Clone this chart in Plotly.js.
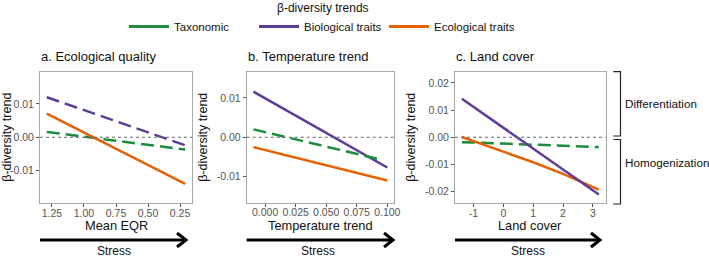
<!DOCTYPE html>
<html>
<head>
<meta charset="utf-8">
<script src="https://cdn.plot.ly/plotly-3.0.1.min.js"></script>
<style>html,body{margin:0;padding:0;background:#fff;}#chart{width:709px;height:257px;}</style>
</head>
<body>
<div id="chart"></div>
<script>
// ---------------- data ----------------
const seriesNames = ["Taxonomic", "Biological traits", "Ecological traits"];
const seriesColors = ["#1e8c3f", "#5e3c99", "#e66101"];
const legendTitle = "β-diversity trends";

// a. Ecological quality (x = Mean EQR, reversed)
const eqrX = [1.29, 0.21];
const eqrTaxa = [0.0016, -0.0037];
const eqrBio = [0.0120, -0.0024];
const eqrEco = [0.0071, -0.0140];

// b. Temperature trend
const tempX = [-0.0096, 0.100];
const tempTaxaX = [-0.0096, 0.095];
const tempTaxa = [0.0020, -0.0057];
const tempBio = [0.0116, -0.0077];
const tempEco = [-0.0025, -0.0110];

// c. Land cover
const landX = [-1.39, 3.2];
const landTaxa = [-0.0018, -0.0036];
const landBio = [0.0142, -0.0211];
const landEcoX = [-1.39, 0, 1, 2, 3.2];
const landEco = [0.0001, -0.0052, -0.0092, -0.0135, -0.0193];

// tick labels
const eqrTicks = [1.25, 1.00, 0.75, 0.50, 0.25];
const eqrTickText = ["1.25", "1.00", "0.75", "0.50", "0.25"];
const tempTicks = [0, 0.025, 0.05, 0.075, 0.1];
const tempTickText = ["0.000", "0.025", "0.050", "0.075", "0.100"];
const landTicks = [-1, 0, 1, 2, 3];
const landTickText = ["-1", "0", "1", "2", "3"];
const yTicksAB = [-0.01, 0, 0.01];
const yTickTextAB = ["-0.01", "0.00", "0.01"];
const yTicksC = [-0.02, -0.01, 0, 0.01, 0.02];
const yTickTextC = ["-0.02", "-0.01", "0.00", "0.01", "0.02"];

const panelTitles = ["a. Ecological quality", "b. Temperature trend", "c. Land cover"];
const xTitles = ["Mean EQR", "Temperature trend", "Land cover"];

// ---------------- layout helpers ----------------
const W = 709, H = 257;
const px = x => x / W;
const py = y => 1 - y / H;
const FONT = "Liberation Sans, Arial, Helvetica, sans-serif";
const DASH = "13px,6px";
const LW = 2.5;

function line(x, y, xa, ya, color, dash) {
  return {x: x, y: y, xaxis: xa, yaxis: ya, type: "scatter", mode: "lines",
    line: {color: color, width: LW, dash: dash || "solid"}, showlegend: false, hoverinfo: "skip"};
}

const traces = [
  line(eqrX, eqrBio, "x", "y", seriesColors[1], DASH),
  line(eqrX, eqrTaxa, "x", "y", seriesColors[0], DASH),
  line(eqrX, eqrEco, "x", "y", seriesColors[2]),
  line(tempX, tempBio, "x2", "y2", seriesColors[1]),
  line(tempTaxaX, tempTaxa, "x2", "y2", seriesColors[0], DASH),
  line(tempX, tempEco, "x2", "y2", seriesColors[2]),
  line(landX, landTaxa, "x3", "y3", seriesColors[0], DASH),
  line(landEcoX, landEco, "x3", "y3", seriesColors[2]),
  line(landX, landBio, "x3", "y3", seriesColors[1]),
];
// legend entries (solid keys)
seriesNames.forEach((n, i) => {
  traces.push({x: [null], y: [null], type: "scatter", mode: "lines", name: n,
    line: {color: seriesColors[i], width: 3}, xaxis: "x", yaxis: "y", showlegend: true});
});

// panel boxes in pixels
const boxes = [
  {l: 40, r: 192, t: 71.5, b: 203},
  {l: 246.7, r: 394, t: 72, b: 202.5},
  {l: 455, r: 605.7, t: 71.5, b: 203},
];

function xa(i, range, tickvals, ticktext) {
  const b = boxes[i];
  return {
    domain: [px(b.l), px(b.r)], range: range, anchor: i === 0 ? "y" : "y" + (i + 1),
    tickvals: tickvals, ticktext: ticktext, ticks: "outside", ticklen: 3, tickwidth: 1,
    tickcolor: "#555", tickfont: {family: FONT, size: 10.5, color: "#555"}, ticklabelstandoff: -3,
    showline: true, linecolor: "#aaa", linewidth: 1, mirror: true, showgrid: false, zeroline: false,
    fixedrange: true
  };
}
function ya(i, range, tickvals, ticktext) {
  const b = boxes[i];
  return {
    domain: [py(b.b), py(b.t)], range: range, anchor: i === 0 ? "x" : "x" + (i + 1),
    tickvals: tickvals, ticktext: ticktext, ticks: "outside", ticklen: 3, tickwidth: 1,
    tickcolor: "#555", tickfont: {family: FONT, size: 10.5, color: "#555"},
    showline: true, linecolor: "#aaa", linewidth: 1, mirror: true, showgrid: false, zeroline: false,
    title: {text: "β-diversity trend", font: {family: FONT, size: 12.5, color: "#111"}, standoff: 6},
    fixedrange: true
  };
}

const shapes = [];
// zero reference lines
["y", "y2", "y3"].forEach((yr, i) => {
  shapes.push({type: "line", xref: (i === 0 ? "x" : "x" + (i + 1)) + " domain", yref: yr,
    x0: 0, x1: 1, y0: 0, y1: 0, line: {color: "#666", width: 1, dash: "3px,3px"}});
});
// stress arrows
const arrows = [[40, 186], [246.7, 393], [455, 600]];
const arrowY = 240;
arrows.forEach(a => {
  shapes.push({type: "line", xref: "paper", yref: "paper", x0: px(a[0]), x1: px(a[1] - 1), y0: py(arrowY), y1: py(arrowY),
    line: {color: "#000", width: 3}});
  shapes.push({type: "path", xref: "paper", yref: "paper",
    path: `M ${px(a[1] - 9)},${py(arrowY - 7)} L ${px(a[1])},${py(arrowY)} L ${px(a[1] - 9)},${py(arrowY + 7)}`,
    line: {color: "#000", width: 3}});
});
// brackets
function bracket(t, b) {
  return {type: "path", xref: "paper", yref: "paper",
    path: `M ${px(613.3)},${py(t)} L ${px(620.5)},${py(t)} L ${px(620.5)},${py(b)} L ${px(613.3)},${py(b)}`,
    line: {color: "#222", width: 1.2}};
}
shapes.push(bracket(71.7, 136));
shapes.push(bracket(139.5, 204));

const annotations = [];
annotations.push({text: legendTitle, xref: "paper", yref: "paper", x: px(323), y: py(7.5),
  xanchor: "center", yanchor: "middle", showarrow: false, font: {family: FONT, size: 12, color: "#111"}});
panelTitles.forEach((t, i) => {
  const cx = (boxes[i].l + boxes[i].r) / 2;
  annotations.push({text: t, xref: "paper", yref: "paper", x: px(boxes[i].l - 1), y: py(56),
    xanchor: "left", yanchor: "middle", showarrow: false, font: {family: FONT, size: 13, color: "#111"}});
  annotations.push({text: xTitles[i], xref: "paper", yref: "paper", x: px(cx), y: py(225),
    xanchor: "center", yanchor: "middle", showarrow: false, font: {family: FONT, size: 12.8, color: "#111"}});
  annotations.push({text: "Stress", xref: "paper", yref: "paper", x: px(cx - 2), y: py(250.5),
    xanchor: "center", yanchor: "middle", showarrow: false, font: {family: FONT, size: 12, color: "#111"}});
});
annotations.push({text: "Differentiation", xref: "paper", yref: "paper", x: px(623), y: py(103.5),
  xanchor: "left", yanchor: "middle", showarrow: false, font: {family: FONT, size: 11.7, color: "#111"}});
annotations.push({text: "Homogenization", xref: "paper", yref: "paper", x: px(623), y: py(162),
  xanchor: "left", yanchor: "middle", showarrow: false, font: {family: FONT, size: 11.7, color: "#111"}});

const layout = {
  width: W, height: H, margin: {l: 0, r: 0, t: 0, b: 0},
  paper_bgcolor: "#fff", plot_bgcolor: "#fff",
  font: {family: FONT, color: "#111"},
  showlegend: true,
  legend: {orientation: "h", x: px(319), xanchor: "center", y: py(12), yanchor: "top",
    font: {family: FONT, size: 11.5, color: "#111"}, itemwidth: 40, entrywidth: 75, entrywidthmode: "pixels",
    bgcolor: "rgba(0,0,0,0)", itemclick: false, itemdoubleclick: false},
  xaxis: xa(0, [1.343, 0.157], eqrTicks, eqrTickText),
  yaxis: ya(0, [-0.0197, 0.0197], yTicksAB, yTickTextAB),
  xaxis2: xa(1, [-0.0151, 0.1055], tempTicks, tempTickText),
  yaxis2: ya(1, [-0.0166, 0.0166], yTicksAB, yTickTextAB),
  xaxis3: xa(2, [-1.62, 3.43], landTicks, landTickText),
  yaxis3: ya(2, [-0.0242, 0.0242], yTicksC, yTickTextC),
  shapes: shapes, annotations: annotations
};

Plotly.newPlot("chart", traces, layout, {displayModeBar: false, staticPlot: true});
</script>
</body>
</html>
